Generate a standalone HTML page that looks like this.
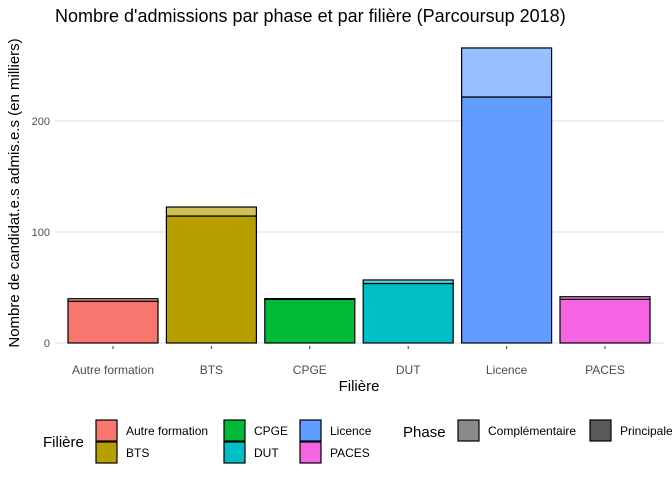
<!DOCTYPE html>
<html><head><meta charset="utf-8"><style>
body{margin:0;background:#fff;font-family:"Liberation Sans",sans-serif}
svg text{font-family:"Liberation Sans",sans-serif}
</style></head><body>
<svg id="c" width="672" height="480">
<text x="55" y="22" font-size="18" fill="#000">Nombre d'admissions par phase et par filière (Parcoursup 2018)</text>
<g id="grid"></g><g id="bars"></g><g id="axes"></g>
<text x="359" y="391" font-size="15" text-anchor="middle">Filière</text>
<text transform="translate(19,193) rotate(-90)" font-size="15" text-anchor="middle">Nombre de candidat.e.s admis.e.s (en milliers)</text>
<g id="legend"></g>
</svg>
<script>
const categories=["Autre formation","BTS","CPGE","DUT","Licence","PACES"];
const principal=[37.6,114.4,39.3,53.6,221.6,39.4];
const complementaire=[2.3,8.1,0.7,3.2,44.2,2.3];
const colors=["#F8766D","#B79F00","#00BA38","#00BFC4","#619CFF","#F564E3"];
const yTicks=[0,100,200];
const NS="http://www.w3.org/2000/svg";
const gx0=55,gx1=664,x0=63.8,x1=654.2,y0=343,ppu=1.11,bw=90;
const xs=i=>x0+(x1-x0)/categories.length*(i+0.5);
const ys=v=>y0-v*ppu;
function mk(t,a,p){const e=document.createElementNS(NS,t);for(const k in a)e.setAttribute(k,a[k]);p.appendChild(e);return e;}
const g=document.getElementById('grid'),b=document.getElementById('bars'),ax=document.getElementById('axes'),lg=document.getElementById('legend');
yTicks.forEach(t=>{
 const l=mk('line',{x1:gx0,x2:gx1,y1:ys(t),y2:ys(t),stroke:'#dcdcdc','stroke-width':1},g);
 
 
 const tx=mk('text',{x:50,y:ys(t)+4,'font-size':11,fill:'#4d4d4d','text-anchor':'end'},ax);tx.textContent=t;
 
 
});
categories.forEach((c,i)=>{
 const cx=xs(i);
 const p=mk('rect',{x:cx-bw/2,y:ys(principal[i]),width:bw,height:principal[i]*ppu,fill:colors[i],stroke:'#000','stroke-width':1.2},b);
 
 
 const tot=principal[i]+complementaire[i];
 const q=mk('rect',{x:cx-bw/2,y:ys(tot),width:bw,height:complementaire[i]*ppu,fill:colors[i],'fill-opacity':0.65,stroke:'#000','stroke-width':1.2},b);
 
 
 mk('line',{x1:cx,x2:cx,y1:y0+3,y2:y0+6,stroke:'#333'},ax);
 const tx=mk('text',{x:cx,y:374,'font-size':12,fill:'#4d4d4d','text-anchor':'middle'},ax);tx.textContent=c;
 
 
});
const t1=mk('text',{x:43,y:447,'font-size':15},lg);t1.textContent='Filière';
const order=[0,1,2,3,4,5];
order.forEach(i=>{
 const col=Math.floor(i/2),row=i%2;
 const kx=[96,224,300][col],ky=420+row*22,lx=[126,254,330][col];
 const r=mk('rect',{x:kx,y:ky,width:21,height:21,fill:colors[i],stroke:'#000','stroke-width':1.2},lg);
 
 
 const t=mk('text',{x:lx,y:ky+15,'font-size':12},lg);t.textContent=categories[i];
});
const t2=mk('text',{x:403,y:437,'font-size':15},lg);t2.textContent='Phase';
[['#8a8a8a','Complémentaire',458,488],['#595959','Principale',590,620]].forEach(d=>{
 const r=mk('rect',{x:d[2],y:420,width:21,height:21,fill:d[0],stroke:'#000','stroke-width':1.2},lg);
 
 
 const t=mk('text',{x:d[3],y:435,'font-size':12},lg);t.textContent=d[1];
});
</script>
</body></html>
